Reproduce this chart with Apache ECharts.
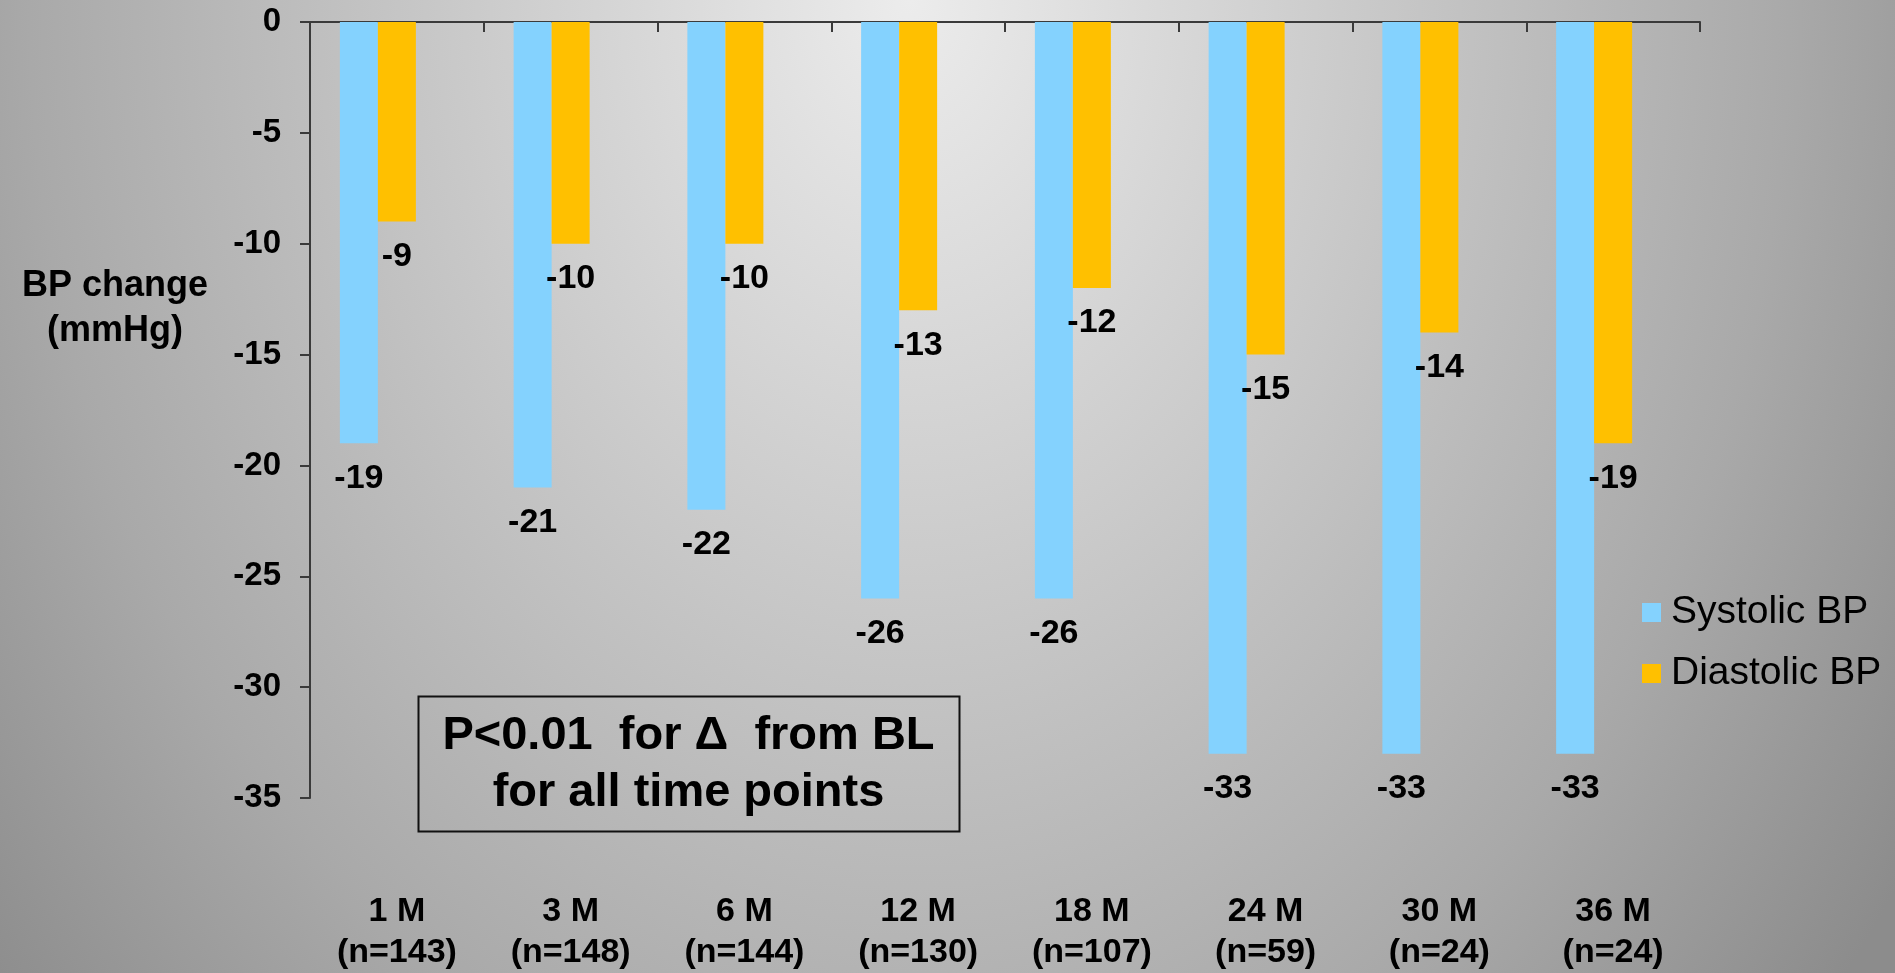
<!DOCTYPE html>
<html>
<head>
<meta charset="utf-8">
<title>BP change from baseline</title>
<script src="https://cdn.jsdelivr.net/npm/echarts@6/dist/echarts.min.js"></script>
<style>
  html, body { margin: 0; padding: 0; width: 1895px; height: 973px; overflow: hidden; }
  body {
    background: radial-gradient(ellipse 1000px 1300px at 48% 0%, #ececec 0%, #c2c2c2 55%, #a9a9a9 88%, #8c8c8c 120%);
  }
  #chart { width: 1895px; height: 973px; }
</style>
</head>
<body>
<div id="chart"></div>
<script>
// Follow-up time points and number of patients at each
const months = ['1 M', '3 M', '6 M', '12 M', '18 M', '24 M', '30 M', '36 M'];
const patients = [143, 148, 144, 130, 107, 59, 24, 24];

// Mean change from baseline, mmHg
const systolic = [-19, -21, -22, -26, -26, -33, -33, -33];
const diastolic = [-9, -10, -10, -13, -12, -15, -14, -19];

// Value axis range and step
const yMin = -35;
const yMax = 0;
const yStep = 5;

const seriesNames = ['Systolic BP', 'Diastolic BP'];
const noteLines = ['P<0.01  for \u0394  from BL', 'for all time points'];
const axisTitle = ['BP change', '(mmHg)'];

const categories = months.map((m, i) => m + '\n(n=' + patients[i] + ')');

const FONT = "'Liberation Sans', Arial, sans-serif";
const AXIS_COLOR = '#3a3a3a';

const chart = echarts.init(document.getElementById('chart'), null, { renderer: 'canvas' });

const valueLabel = {
  show: true,
  position: 'bottom',
  distance: 18,
  fontFamily: FONT,
  fontWeight: 'bold',
  fontSize: 34,
  color: '#000'
};

chart.setOption({
  backgroundColor: 'transparent',
  animation: false,
  grid: { left: 310, right: 195, top: 22, bottom: 173, containLabel: false },
  legend: {
    data: seriesNames,
    orient: 'vertical',
    left: 1637,
    top: 588,
    icon: 'rect',
    itemWidth: 19,
    itemHeight: 19,
    itemGap: 22,
    textStyle: { fontFamily: FONT, fontSize: 39, color: '#000', padding: [0, 0, 0, 5] }
  },
  xAxis: [
    {
      // zero line along the top with ticks between categories
      type: 'category',
      data: categories,
      position: 'top',
      axisLine: { show: true, lineStyle: { color: AXIS_COLOR, width: 2 } },
      axisTick: { show: true, inside: true, length: 10, lineStyle: { color: AXIS_COLOR, width: 2 } },
      axisLabel: { show: false },
      splitLine: { show: false }
    },
    {
      // category names printed under the plot
      type: 'category',
      data: categories,
      position: 'bottom',
      axisLine: { show: false },
      axisTick: { show: false },
      axisLabel: {
        show: true,
        margin: 93,
        fontFamily: FONT,
        fontWeight: 'bold',
        fontSize: 34,
        lineHeight: 41,
        color: '#000'
      },
      splitLine: { show: false }
    }
  ],
  yAxis: {
    type: 'value',
    min: yMin,
    max: yMax,
    interval: yStep,
    axisLine: { show: true, lineStyle: { color: AXIS_COLOR, width: 2 } },
    axisTick: { show: true, length: 10, lineStyle: { color: AXIS_COLOR, width: 2 } },
    axisLabel: { margin: 29, fontFamily: FONT, fontWeight: 'bold', fontSize: 33, color: '#000' },
    splitLine: { show: false }
  },
  series: [
    {
      name: seriesNames[0],
      type: 'bar',
      xAxisIndex: 0,
      data: systolic,
      barWidth: 38,
      barGap: '0%',
      itemStyle: { color: '#84D2FE' },
      label: valueLabel
    },
    {
      name: seriesNames[1],
      type: 'bar',
      xAxisIndex: 0,
      data: diastolic,
      barWidth: 38,
      barGap: '0%',
      itemStyle: { color: '#FFC000' },
      label: valueLabel
    },
    {
      // empty third slot: keeps the bar pair left of each category centre
      name: 'spacer',
      type: 'bar',
      xAxisIndex: 0,
      data: [],
      barWidth: 38,
      barGap: '0%'
    }
  ],
  graphic: [
    {
      type: 'text',
      x: 115,
      y: 309,
      style: {
        text: axisTitle.join('\n'),
        font: 'bold 36px ' + FONT,
        fill: '#000',
        align: 'center',
        verticalAlign: 'middle',
        lineHeight: 45
      }
    },
    {
      type: 'group',
      left: 416,
      top: 694,
      children: [
        {
          type: 'rect',
          shape: { x: 0, y: 0, width: 541, height: 135 },
          style: { fill: 'none', stroke: '#111', lineWidth: 2 }
        },
        {
          type: 'text',
          x: 270,
          y: 68,
          style: {
            text: noteLines.join('\n'),
            font: 'bold 47px ' + FONT,
            fill: '#000',
            align: 'center',
            verticalAlign: 'middle',
            lineHeight: 57
          }
        }
      ]
    }
  ]
});
</script>
</body>
</html>
